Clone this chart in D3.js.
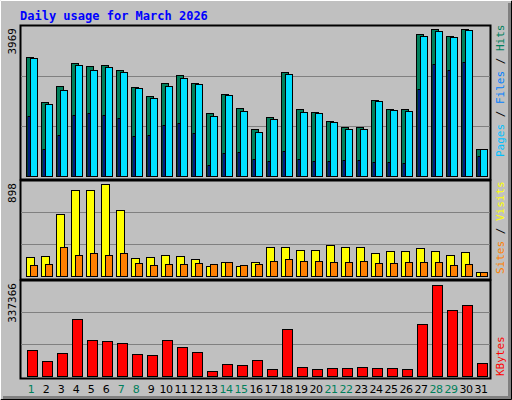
<!DOCTYPE html>
<html><head><meta charset="utf-8">
<script src="https://cdn.jsdelivr.net/npm/d3@7"></script>
<style>body{margin:0;background:#fff}svg{display:block}</style>
</head><body>
<svg id="c" width="512" height="400"></svg>
<script>
const days = d3.range(1, 32);
const weekend = [1,7,8,14,15,21,22,28,29];
const hits  = [3128,1946,2367,2972,2893,2919,2788,2341,2104,2446,2656,2446,1657,2157,1788,1236,1552,2735,1762,1683,1447,1289,1289,1999,1762,1762,3734,3866,3682,3866,710];
const files = [3103,1894,2262,2919,2788,2867,2735,2314,2051,2367,2577,2420,1578,2130,1710,1157,1499,2683,1683,1657,1420,1236,1236,1972,1736,1710,3682,3814,3656,3840,710];
const pages = [1578,710,1078,1604,1657,1604,1525,1052,1078,1341,1394,1131,289,605,631,447,394,657,447,394,394,421,421,368,368,342,2288,2946,2788,2998,526];
const visits = [178,187,580,804,804,861,617,168,178,196,187,159,94,131,94,131,271,271,243,243,290,271,271,215,234,234,262,234,196,224,37];
const sites  = [103,112,271,196,215,196,215,122,103,112,112,122,112,131,103,112,140,159,140,140,131,131,140,122,122,131,131,131,103,112,37];
const kbytes = [91364,52705,80822,200286,126500,122986,115958,77308,73794,126500,101904,84336,17569,42166,38652,56222,24597,165150,31625,24597,28111,28111,31625,28111,28111,24597,182718,319764,231918,249488,45680];
const maxHits = 3969, maxVisits = 898, maxKb = 337366;

const svg = d3.select("#c");
svg.append("rect").attr("width",512).attr("height",400).attr("fill","#c0c0c0");
svg.append("path").attr("d","M0.5,399V0.5H511").attr("stroke","#fff").attr("fill","none");
svg.append("path").attr("d","M1,399.5H511.5V1").attr("stroke","#000").attr("fill","none");
svg.append("path").attr("d","M3,397.5H509.5V3").attr("stroke","#808080").attr("stroke-width",3).attr("fill","none");

svg.append("text").attr("x",20).attr("y",20).text("Daily usage for March 2026")
  .attr("font-family","DejaVu Sans Mono, monospace").attr("font-weight","bold").attr("font-size",12).attr("fill","#0000ff");

const x = d3.scaleBand().domain(days).range([24.5,489.5]).paddingInner(0).paddingOuter(0);

function panel(y0, y1, base) {
  svg.append("rect").attr("x",20.5).attr("y",y0+.5).attr("width",470).attr("height",y1-y0)
    .attr("fill","#c0c0c0").attr("stroke","#000").attr("stroke-width",2);
  const ys = d3.scaleLinear().domain([0,1]).range([base, y0+0.5]);
  [1/3,2/3].forEach(f => svg.append("line").attr("x1",21).attr("x2",490)
    .attr("y1",Math.round(ys(f))+.5).attr("y2",Math.round(ys(f))+.5).attr("stroke","#808080"));
  return ys;
}
function bars(arr, max, ys, off, w, color) {
  const y = d3.scaleLinear().domain([0,max]).range([ys.range()[0], ys.range()[1]]);
  svg.append("g").selectAll("rect").data(arr).join("rect")
    .attr("x",(d,i)=>Math.round(x(days[i]))+off+.5).attr("width",w)
    .attr("y",d=>Math.round(y(d))+.5).attr("height",d=>Math.max(0,Math.round(y(0))-Math.round(y(d))))
    .attr("fill",color).attr("stroke","#000");
}
const ys1 = panel(25,179,176);
bars(hits,maxHits,ys1,1,7,"#00805c");
bars(files,maxHits,ys1,5,7,"#00e0ff");
bars(pages,maxHits,ys1,2.5,2,"#0040ff");
const ys2 = panel(180,279,276);
bars(visits,maxVisits,ys2,1,8,"#ffff00");
bars(sites,maxVisits,ys2,5,7,"#ff8000");
const ys3 = panel(280,378,375.5);
bars(kbytes,maxKb,ys3,2,10,"#ff0000");

function vlabel(xp, yp, txt) {
  svg.append("text").attr("transform",`translate(${xp},${yp}) rotate(-90)`).attr("text-anchor","end").text(txt)
    .attr("font-family","DejaVu Sans Mono, monospace").attr("font-size",11).attr("fill","#000");
}
vlabel(16,28,"3969");
vlabel(16,183,"898");
vlabel(16,283,"337366");

function rlabel(yEnd, parts) {
  const t = svg.append("text").attr("transform",`translate(504,${yEnd}) rotate(-90)`)
    .attr("font-family","DejaVu Sans Mono, monospace").attr("font-size",11);
  parts.forEach(p => t.append("tspan").text(p[0]).attr("fill",p[1]));
}
rlabel(157,[["Pages","#00c0ff"],[" / ","#000"],["Files","#0080ff"],[" / ","#000"],["Hits","#00805c"]]);
rlabel(274,[["Sites","#ff8000"],[" / ","#000"],["Visits","#ffff00"]]);
rlabel(376,[["KBytes","#ff0000"]]);

svg.append("g").selectAll("text").data(days).join("text")
  .attr("x",d=>x(d)+x.bandwidth()/2-1).attr("y",393).attr("text-anchor","middle").text(d=>d)
  .attr("font-family","DejaVu Sans, sans-serif").attr("font-size",11).attr("letter-spacing",-0.5)
  .attr("fill",d=>weekend.includes(d)?"#00805c":"#000");
</script>
</body></html>
